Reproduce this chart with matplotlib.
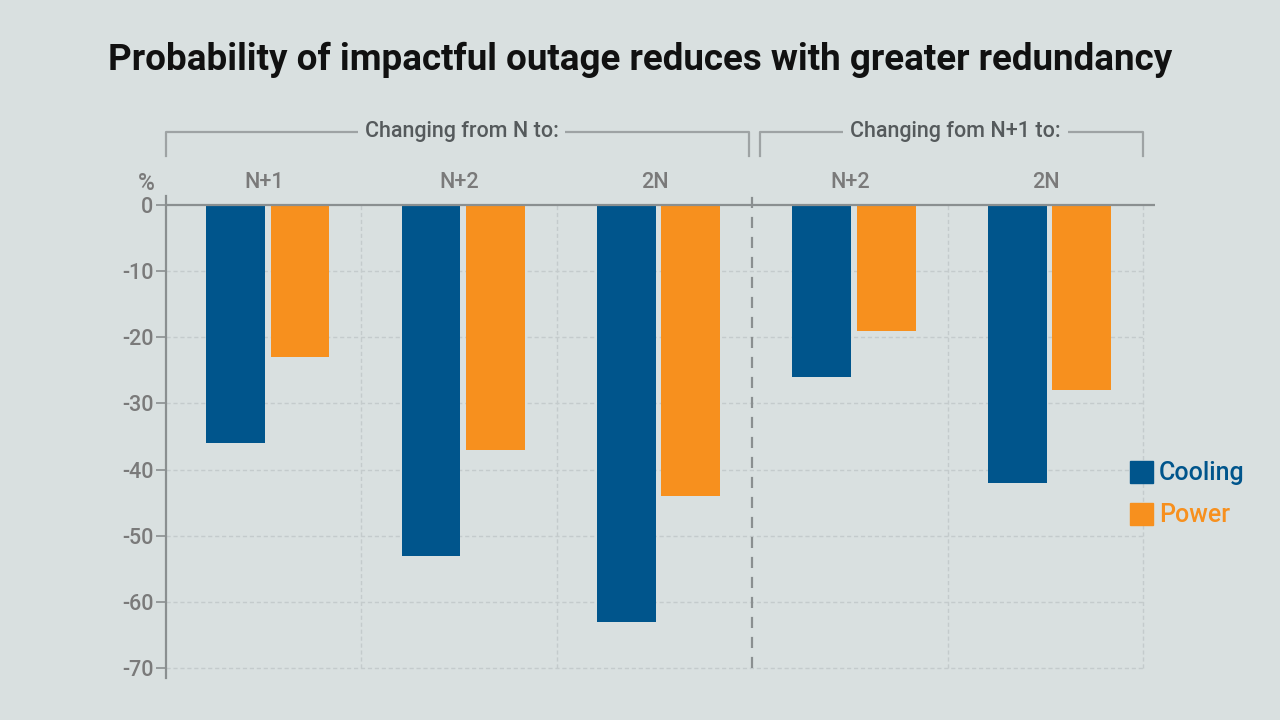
import numpy as np
import matplotlib
matplotlib.use("Agg")
import matplotlib.pyplot as plt
from matplotlib.patches import Patch
from matplotlib.lines import Line2D
from matplotlib.transforms import blended_transform_factory

plt.rcParams['font.family'] = ['Roboto', 'DejaVu Sans']
plt.rcParams['font.weight'] = 'medium'

# data
categories = ['N+1', 'N+2', '2N', 'N+2', '2N']
cooling = [-36, -53, -63, -26, -42]
power = [-23, -37, -44, -19, -28]
section_labels = ['Changing from N to:', 'Changing fom N+1 to:']
yticks = [0, -10, -20, -30, -40, -50, -60, -70]

bg = '#d9e0e0'
blue = '#00558c'
orange = '#f7901e'
gray = '#7a7a7a'
dark = '#555a5c'

fig = plt.figure(figsize=(12.8, 7.2), dpi=100, facecolor=bg)
ax = fig.add_axes([166 / 1280, 1 - 678 / 720, (1155 - 166) / 1280, (678 - 196) / 720])
ax.set_facecolor(bg)

x = np.arange(len(categories))
ax.bar(x - 0.145, cooling, width=0.3, color=blue, zorder=3)
ax.bar(x + 0.185, power, width=0.3, color=orange, zorder=3)

ax.set_xlim(-0.5, 4.56)
ax.set_ylim(-71.5, 1.36)
ax.set_yticks(yticks)
ax.set_yticklabels([str(v) for v in yticks], fontweight='medium')
ax.set_xticks([])

# grid
for v in yticks[1:]:
    ax.axhline(v, xmin=0, xmax=(4.5 + 0.5) / 5.06, color='#c4cbcc', lw=1, ls=(0, (3, 2)), zorder=1)
for b in [0.5, 1.5, 3.5, 4.5]:
    ax.plot([b, b], [-70, 0], color='#c4cbcc', lw=1, ls=(0, (3, 2)), zorder=1)
ax.plot([2.5, 2.5], [-70, 1.36], color='#8a8f90', lw=1.6, ls=(0, (5, 4)), zorder=2)
ax.axhline(0, color='#8a8f90', lw=1.6, zorder=4)

for s in ['top', 'right', 'bottom']:
    ax.spines[s].set_visible(False)
ax.spines['left'].set_color('#8a8f90')
ax.spines['left'].set_linewidth(1.6)
ax.tick_params(axis='y', colors='#8a8f90', labelcolor=gray, labelsize=15.5, length=7, width=1.2, pad=2)

# category labels above the axis
trans = blended_transform_factory(ax.transData, fig.transFigure)
for i, c in enumerate(categories):
    ax.text(i, 1 - 183 / 720, c, transform=trans, ha='center', va='center', fontsize=15.5, color=gray)
fig.text(146 / 1280, 1 - 184 / 720, '%', ha='center', va='center', fontsize=16.5, color=gray)

# section brackets
y_line = 1 - 132 / 720
y_tick = 1 - 156 / 720
for (x0, x1), lab in zip([(-0.5, 2.484), (2.54, 4.5)], section_labels):
    ax.add_line(Line2D([x0, x0, x1, x1], [y_tick, y_line, y_line, y_tick], transform=trans,
                       color='#9ea3a4', lw=1.6, clip_on=False))
    ax.text((x0 + x1) / 2 + 0.02, y_line, lab, transform=trans, ha='center', va='center',
            fontsize=15.5, color=dark, bbox=dict(facecolor=bg, edgecolor='none', pad=5))

# legend
handles = [Patch(color=blue), Patch(color=orange)]
fig.legend(handles, ['Cooling', 'Power'], loc='center left', bbox_to_anchor=(1120 / 1280, 1 - 494 / 720),
           frameon=False, labelcolor=[blue, orange], fontsize=18, handlelength=0.9, handleheight=1.0,
           handletextpad=0.25, labelspacing=0.7, borderaxespad=0)

fig.text(0.5, 1 - 60 / 720, 'Probability of impactful outage reduces with greater redundancy',
         ha='center', va='center', fontsize=26.5, fontweight='bold', color='#111111')

fig.savefig('out.png', dpi=100, facecolor=bg)
